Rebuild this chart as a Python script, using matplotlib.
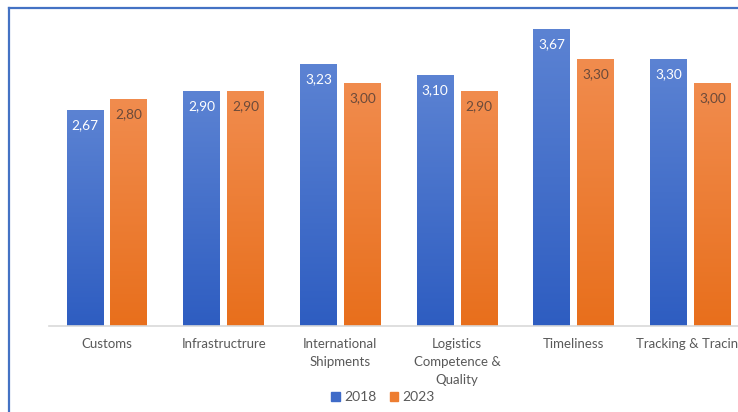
import matplotlib.pyplot as plt
import numpy as np
from matplotlib.colors import LinearSegmentedColormap
from matplotlib.lines import Line2D
from matplotlib.patches import Patch

plt.rcParams['font.family'] = ['Lato', 'DejaVu Sans']

categories = ['Customs', 'Infrastructrure', 'International\nShipments',
              'Logistics\nCompetence &\nQuality', 'Timeliness', 'Tracking & Tracing']
years = ['2018', '2023']
values_2018 = [2.67, 2.90, 3.23, 3.10, 3.67, 3.30]
values_2023 = [2.80, 2.90, 3.00, 2.90, 3.30, 3.00]

blue_top, blue_bottom = '#5C83D3', '#2E5DC1'
orange_top, orange_bottom = '#F18C4E', '#E86F1C'

fig = plt.figure(figsize=(7.38, 4.12), dpi=100)
ax = fig.add_axes([48.7 / 738, 86 / 412, (738 - 48.7) / 738, 1 - 86 / 412])

x = np.arange(len(categories))
width = 0.317
offset = 0.188

grad = np.linspace(1, 0, 256).reshape(-1, 1)


def gradient_bars(xs, vals, top, bottom, txtcolor):
    cmap = LinearSegmentedColormap.from_list('g', [bottom, top])
    bars = ax.bar(xs, vals, width, color='none', edgecolor='none')
    for b, v in zip(bars, vals):
        x0 = b.get_x()
        im = ax.imshow(grad, cmap=cmap, aspect='auto',
                       extent=[x0, x0 + width, 0, v], zorder=2)
        im.set_clip_path(b)
        ax.text(x0 + width / 2, v - 0.185, f'{v:.2f}'.replace('.', ','),
                ha='center', va='center', fontsize=9.8, color=txtcolor, zorder=3)
    return bars


gradient_bars(x - offset, values_2018, blue_top, blue_bottom, 'white')
gradient_bars(x + offset, values_2023, orange_top, orange_bottom, '#6b4a3a')

ax.set_xlim(-0.5, (738 - 107.25) / 116.65)
ax.set_ylim(0, 326 / 81)
ax.set_xticks(x)
ax.set_xticklabels(categories, fontsize=9.5, color='#595959', linespacing=1.55)
ax.tick_params(axis='x', length=0, pad=9)
ax.set_yticks([])
for s in ['top', 'right', 'left']:
    ax.spines[s].set_visible(False)
ax.spines['bottom'].set_color('#D9D9D9')
ax.spines['bottom'].set_linewidth(1.2)

handles = [Patch(color='#3F6BC8', label='2018'), Patch(color='#ED7D31', label='2023')]
fig.legend(handles=handles, loc='center', bbox_to_anchor=(383 / 738, 1 - 397 / 412),
           ncol=2, frameon=False, fontsize=10, handlelength=0.6, handleheight=0.6,
           handletextpad=0.3, columnspacing=1.0, labelcolor='#595959')

# chart frame (left and top edges visible)
fig.add_artist(Line2D([8.5 / 738, 8.5 / 738], [0, 1 - 8 / 412], transform=fig.transFigure,
                      color='#4472C4', lw=1.6))
fig.add_artist(Line2D([8.5 / 738, 1], [1 - 8 / 412, 1 - 8 / 412], transform=fig.transFigure,
                      color='#4472C4', lw=1.6))

fig.savefig('out.png', dpi=100)
